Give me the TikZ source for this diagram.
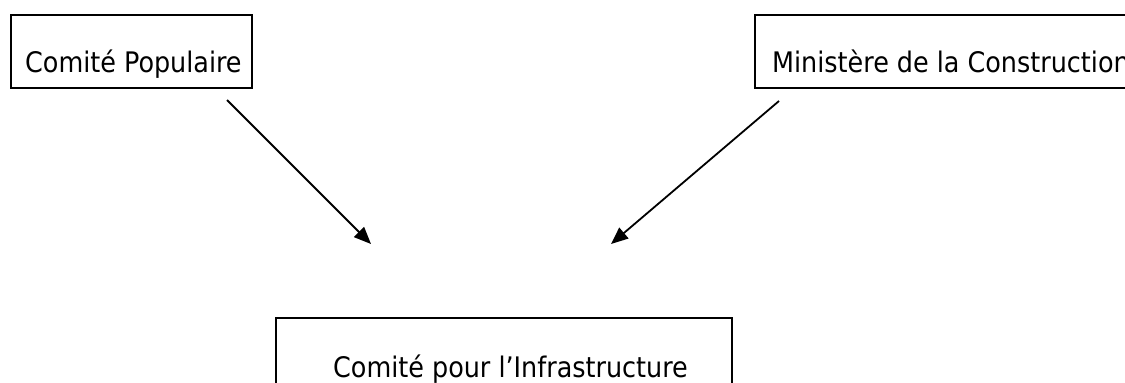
\documentclass[tikz,border=0pt]{standalone}
\usepackage{fontspec}
\setmainfont{DejaVu Sans Condensed}
\usetikzlibrary{arrows.meta}
\begin{document}
\begin{tikzpicture}[x=1pt,y=-1pt,
  boxnode/.style={draw=black, line width=1.8pt, rectangle, inner sep=0pt, anchor=north west},
  lbl/.style={inner sep=0pt, anchor=base west, font=\fontsize{28.3}{34}\selectfont},
  conn/.style={draw=black, line width=1.8pt, -{Triangle[length=17pt,width=14pt]}}]
\useasboundingbox (0,0) rectangle (1125,383);
\clip (0,0) rectangle (1125,383);
% boxes
\node[boxnode, minimum width=241pt, minimum height=73pt] (cp) at (10,14) {};
\node[boxnode, minimum width=390pt, minimum height=73pt] (mc) at (754,14) {};
\node[boxnode, minimum width=456pt, minimum height=100pt] (ci) at (275,317) {};
% labels
\node[lbl] (cpt) at (25,72) {Comité Populaire};
\node[lbl] (mct) at (772,72) {Ministère de la Construction};
\node[lbl] (cit) at (333,377) {Comité pour l’Infrastructure};
% connector ends
\coordinate (a1s) at (227,100);
\coordinate (a1e) at (371,244);
\coordinate (a2s) at (779,101);
\coordinate (a2e) at (611,244);
\draw[conn] (a1s) -- (a1e);
\draw[conn] (a2s) -- (a2e);
\end{tikzpicture}
\end{document}
